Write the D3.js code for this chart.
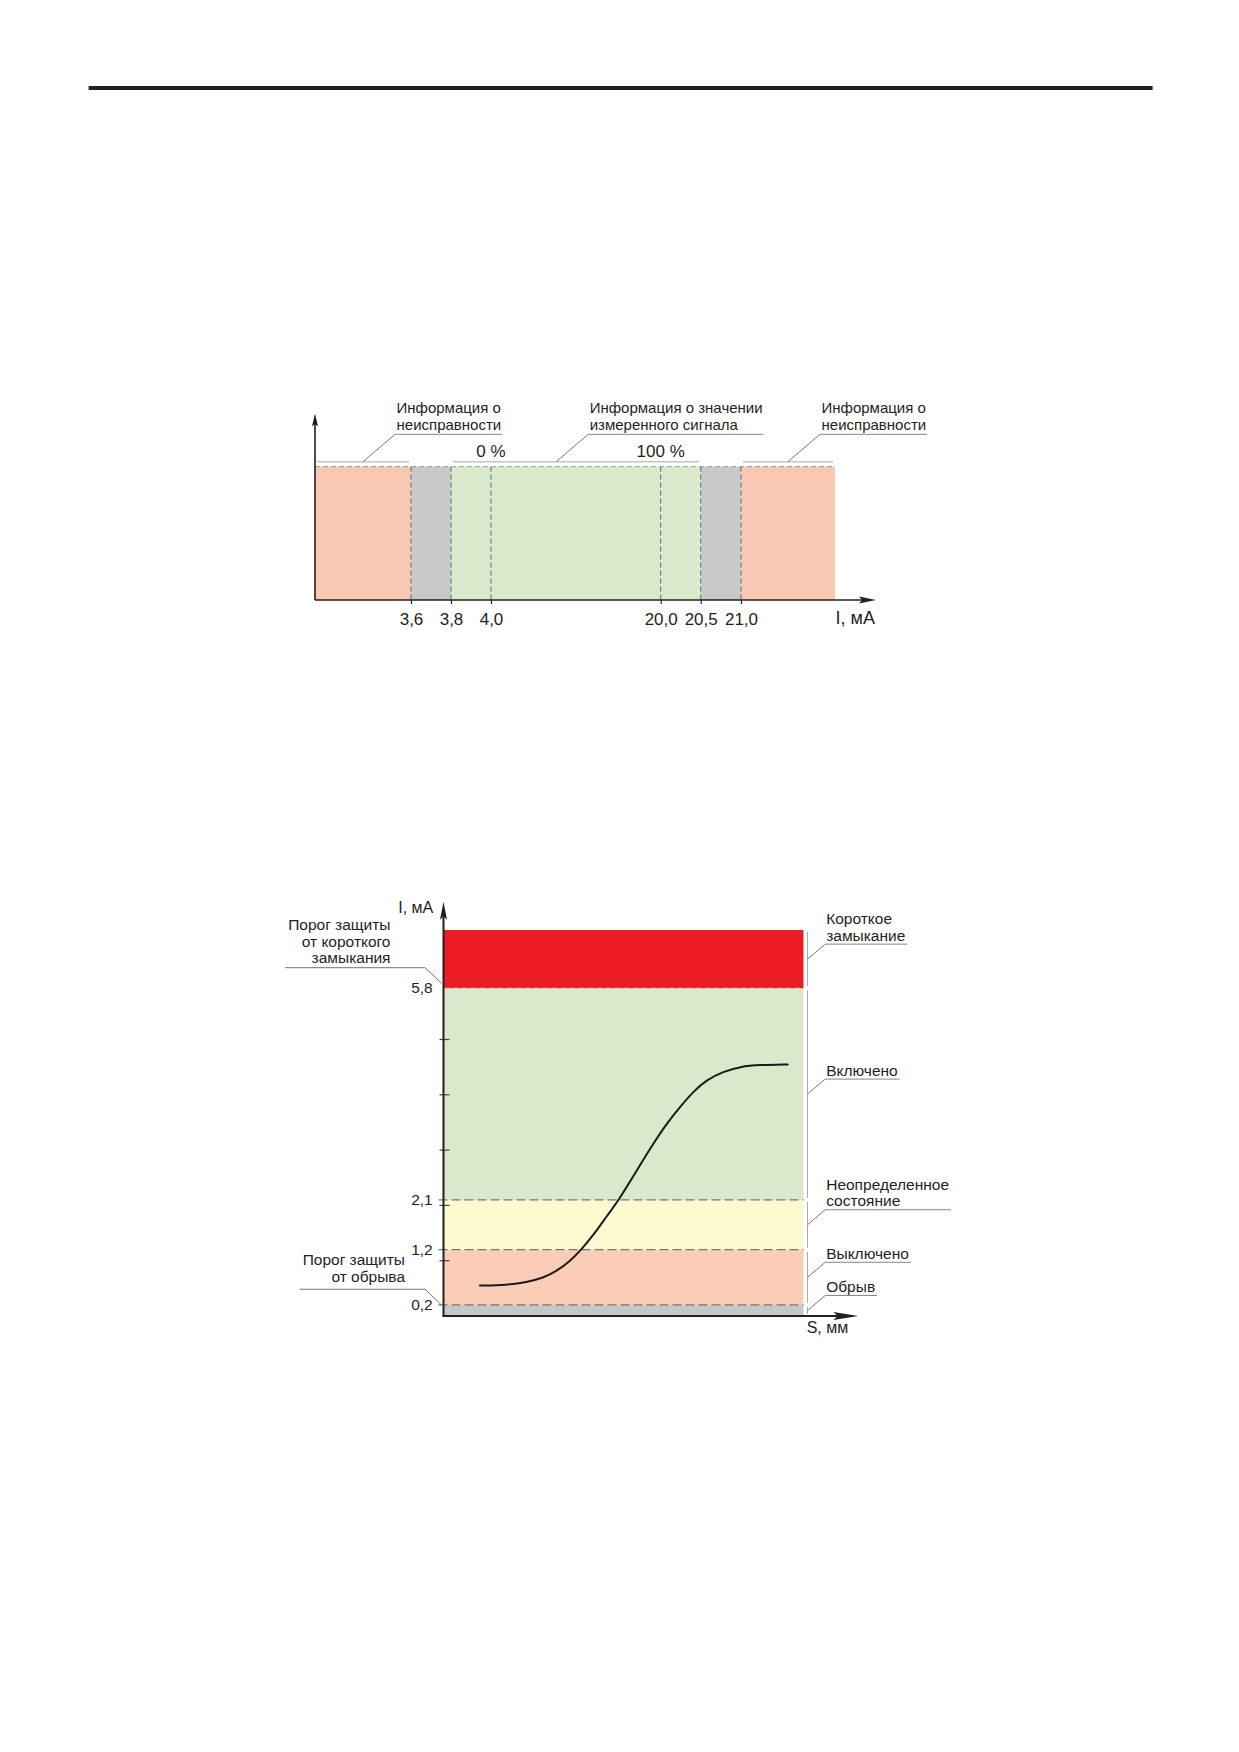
<!DOCTYPE html>
<html lang="ru">
<head>
<meta charset="utf-8">
<script src="https://cdn.jsdelivr.net/npm/d3@7"></script>
<style>
  html, body { margin: 0; padding: 0; background: #fff; }
  svg { display: block; }
  text { font-family: "Liberation Sans", Arial, sans-serif; fill: #231f20; }
</style>
</head>
<body>
<svg id="list" width="1239" height="1752"></svg>
<script>
// ---------- диаграмма 1: токовый выход 4...20 мА ----------
var granicyI = [3.6, 3.8, 4.0, 20.0, 20.5, 21.0];
var podpisiI = ["3,6", "3,8", "4,0", "20,0", "20,5", "21,0"];
var zonyOt = [3.0, 3.6, 3.8, 20.5, 21.0];
var zonyDo = [3.6, 3.8, 20.5, 21.0, 21.6];
var zonyTip = ["авария", "резерв", "сигнал", "резерв", "авария"];
var procentyZnach = [4.0, 20.0];
var procentyText = ["0 %", "100 %"];
var vynoski1 = [["Информация о", "неисправности"],
                ["Информация о значении", "измеренного сигнала"],
                ["Информация о", "неисправности"]];
var vynoski1Ot = [3.0, 3.8, 21.0];
var vynoski1Do = [3.6, 20.5, 21.6];

// ---------- диаграмма 2: датчик NAMUR ----------
var urovniOt = [0, 0.2, 1.2, 2.1, 5.8];
var urovniDo = [0.2, 1.2, 2.1, 5.8, 7.0];
var urovniTip = ["обрыв", "выкл", "неопр", "вкл", "кз"];
var urovniText = [["Обрыв"], ["Выключено"], ["Неопределенное", "состояние"],
                  ["Включено"], ["Короткое", "замыкание"]];
var metkiI = [0.2, 1.2, 2.1, 5.8];
var metkiText = ["0,2", "1,2", "2,1", "5,8"];
var deleniya = [1, 2, 3, 4, 5];
var porogi = [5.8, 0.2];
var porogiText = [["Порог защиты", "от короткого", "замыкания"],
                  ["Порог защиты", "от обрыва"]];
var krivayaS = [1.01, 1.76, 2.31, 2.77, 3.14, 3.51, 3.84, 4.16, 4.53, 4.88, 5.18,
                5.46, 5.83, 6.20, 6.57, 6.94, 7.31, 7.77, 8.24, 8.79, 9.56];
var krivayaI = [0.55, 0.56, 0.61, 0.69, 0.81, 0.99, 1.21, 1.46, 1.80, 2.11, 2.43,
                2.73, 3.12, 3.48, 3.78, 4.06, 4.27, 4.42, 4.51, 4.54, 4.55];

var cveta1 = d3.scaleOrdinal().domain(["авария", "резерв", "сигнал"])
    .range(["#f9c8b3", "#c7c8ca", "#d8eacb"]);
var cveta2 = d3.scaleOrdinal().domain(["обрыв", "выкл", "неопр", "вкл", "кз"])
    .range(["#c6c7c9", "#fbcdb6", "#fdf9d1", "#d8eacb", "#ec1c24"]);

var svg = d3.select("#list");
var TEMNYJ = "#231f20";

// линия в шапке страницы
svg.append("line").attr("x1", 88.6).attr("x2", 1152.6).attr("y1", 88).attr("y2", 88)
    .attr("stroke", TEMNYJ).attr("stroke-width", 4);

function strelka(g, x, y, napr, dlina, shirina) {
    var d;
    if (napr === "up") {
        d = "M" + x + "," + y + "L" + (x - shirina / 2) + "," + (y + dlina) +
            "L" + x + "," + (y + dlina * 0.82) + "L" + (x + shirina / 2) + "," + (y + dlina) + "Z";
    } else {
        d = "M" + x + "," + y + "L" + (x - dlina) + "," + (y - shirina / 2) +
            "L" + (x - dlina * 0.82) + "," + y + "L" + (x - dlina) + "," + (y + shirina / 2) + "Z";
    }
    g.append("path").attr("d", d).attr("fill", TEMNYJ);
}

function tekst(g, x, y, stroki, anchor, shag, razmer) {
    var t = g.append("text").attr("text-anchor", anchor).style("font-size", razmer + "px");
    stroki.forEach(function(s, i) {
        t.append("tspan").attr("x", x).attr("y", y + i * shag).text(s);
    });
    return t;
}

// ================= диаграмма 1 =================
var g1 = svg.append("g");
var x1 = d3.scaleLinear()
    .domain([3.0, 3.6, 3.8, 4.0, 20.0, 20.5, 21.0, 21.6])
    .range([315, 411, 451, 491, 660.7, 700.7, 741, 835]);
var y1 = d3.scaleLinear().domain([0, 1]).range([600, 466.7]);

g1.selectAll("rect.zona").data(zonyOt).enter().append("rect")
    .attr("class", "zona")
    .attr("x", function(d) { return x1(d); })
    .attr("y", y1(1))
    .attr("width", function(d, i) { return x1(zonyDo[i]) - x1(d); })
    .attr("height", y1(0) - y1(1))
    .attr("fill", function(d, i) { return cveta1(zonyTip[i]); });

// пунктир по верху и по границам
g1.append("line").attr("x1", x1(3.0)).attr("x2", x1(21.6)).attr("y1", y1(1)).attr("y2", y1(1))
    .attr("stroke", "#999").attr("stroke-dasharray", "5,3");
g1.selectAll("line.gran").data(granicyI).enter().append("line")
    .attr("class", "gran")
    .attr("x1", function(d) { return x1(d); }).attr("x2", function(d) { return x1(d); })
    .attr("y1", y1(1)).attr("y2", y1(0))
    .attr("stroke", "#6b6b6b").attr("stroke-dasharray", "5,3");

// ось X
var os1 = d3.axisBottom(x1).tickValues(granicyI)
    .tickFormat(function(d, i) { return podpisiI[i]; })
    .tickSize(4).tickPadding(9).tickSizeOuter(0);
var gOs1 = g1.append("g").attr("transform", "translate(0," + y1(0) + ")").call(os1);
gOs1.select(".domain").remove();
gOs1.selectAll(".tick line").attr("stroke", TEMNYJ).attr("stroke-width", 1.2);
gOs1.selectAll(".tick text").style("font-size", "17px").style("font-family", null).attr("fill", TEMNYJ);

g1.append("line").attr("x1", x1(3.0)).attr("x2", 866).attr("y1", y1(0)).attr("y2", y1(0))
    .attr("stroke", TEMNYJ).attr("stroke-width", 1.6);
strelka(g1, 876, y1(0), "right", 17, 7);
g1.append("line").attr("x1", x1(3.0)).attr("x2", x1(3.0)).attr("y1", y1(0)).attr("y2", 422)
    .attr("stroke", TEMNYJ).attr("stroke-width", 1.6);
strelka(g1, x1(3.0), y1(1.4), "up", 13, 6);
g1.append("text").attr("x", 875).attr("y", 624).attr("text-anchor", "end")
    .style("font-size", "18px").text("I, мА");

// 0 % и 100 %
g1.selectAll("text.proc").data(procentyZnach).enter().append("text")
    .attr("class", "proc")
    .attr("x", function(d) { return x1(d); })
    .attr("y", y1(1) - 10)
    .attr("text-anchor", "middle").style("font-size", "17px")
    .text(function(d, i) { return procentyText[i]; });

// выноски
var dolyaVynoski = [0.5, 0.42, 0.5];
vynoski1.forEach(function(stroki, i) {
    var a = x1(vynoski1Ot[i]) + 2, b = x1(vynoski1Do[i]) - 2;
    var yb = y1(1) - 5;
    g1.append("line").attr("x1", a).attr("x2", b).attr("y1", yb).attr("y2", yb)
        .attr("stroke", "#c4c4c4").attr("stroke-width", 1.6);
    var xs = a + (b - a) * dolyaVynoski[i];
    var xe = xs + 32, ye = yb - 27.4;
    g1.append("line").attr("x1", xs).attr("y1", yb).attr("x2", xe).attr("y2", ye)
        .attr("stroke", "#666").attr("stroke-width", 0.9);
    var t = tekst(g1, xe + 1.5, yb - 48.7, stroki, "start", 17, 15);
    var w = t.node().getBBox().width;
    g1.append("line").attr("x1", xe).attr("x2", xe + 1.5 + w + 1).attr("y1", ye).attr("y2", ye)
        .attr("stroke", "#777").attr("stroke-width", 0.9);
});

// ================= диаграмма 2 =================
var g2 = svg.append("g");
var x2 = d3.scaleLinear().domain([0, 10]).range([443.5, 803.5]);
var y2 = d3.scaleLinear().domain([0, 5, 5.8, 7]).range([1316, 1039.5, 988.3, 930]);

g2.selectAll("rect.uroven").data(urovniOt).enter().append("rect")
    .attr("class", "uroven")
    .attr("x", x2(0))
    .attr("y", function(d, i) { return y2(urovniDo[i]); })
    .attr("width", x2(10) - x2(0))
    .attr("height", function(d, i) { return y2(d) - y2(urovniDo[i]); })
    .attr("fill", function(d, i) { return cveta2(urovniTip[i]); });

// граница 5,8 — светлый пунктир
g2.append("line").attr("x1", x2(0)).attr("x2", x2(10)).attr("y1", y2(5.8)).attr("y2", y2(5.8))
    .attr("stroke", "#f1d0cc").attr("stroke-dasharray", "6,3");
// пороги 2,1 / 1,2 / 0,2
g2.selectAll("line.porog").data([2.1, 1.2, 0.2]).enter().append("line")
    .attr("class", "porog")
    .attr("x1", x2(0) - 5).attr("x2", x2(10))
    .attr("y1", function(d) { return y2(d); }).attr("y2", function(d) { return y2(d); })
    .attr("stroke", "#777").attr("stroke-width", 1.2).attr("stroke-dasharray", "9,4");

// мелкие деления
g2.selectAll("line.del").data(deleniya).enter().append("line")
    .attr("class", "del")
    .attr("x1", x2(0) - 4).attr("x2", x2(0) + 6)
    .attr("y1", function(d) { return y2(d); }).attr("y2", function(d) { return y2(d); })
    .attr("stroke", "#444").attr("stroke-width", 1.2);

g2.selectAll("text.metka").data(metkiI).enter().append("text")
    .attr("class", "metka")
    .attr("x", x2(0) - 10.8)
    .attr("y", function(d) { return y2(d); })
    .attr("dy", "0.33em")
    .attr("text-anchor", "end").style("font-size", "15.5px")
    .text(function(d, i) { return metkiText[i]; });

// кривая
var liniya = d3.line()
    .x(function(d, i) { return x2(krivayaS[i]); })
    .y(function(d) { return y2(d); })
    .curve(d3.curveBasis);
g2.append("path").attr("d", liniya(krivayaI))
    .attr("fill", "none").attr("stroke", "#1a1a1a").attr("stroke-width", 2)
    .attr("stroke-linecap", "round");

// оси
g2.append("line").attr("x1", x2(0)).attr("x2", x2(0)).attr("y1", y2(0)).attr("y2", 915)
    .attr("stroke", TEMNYJ).attr("stroke-width", 2);
strelka(g2, x2(0), 901.7, "up", 18, 7);
g2.append("line").attr("x1", x2(0) - 1).attr("x2", 845).attr("y1", y2(0)).attr("y2", y2(0))
    .attr("stroke", TEMNYJ).attr("stroke-width", 2);
strelka(g2, 858.3, y2(0), "right", 25, 8);
g2.append("text").attr("x", 433.3).attr("y", 913.3).attr("text-anchor", "end")
    .style("font-size", "16px").text("I, мА");
g2.append("text").attr("x", 806.7).attr("y", 1333.3).attr("text-anchor", "start")
    .style("font-size", "16px").text("S, мм");

// пороги защиты слева
var porogiRaskladka = [
    { pravo: -53, gor: -20.6, konec: -5, sdvig: -4.4 },
    { pravo: -38.5, gor: -15.7, konec: 0, sdvig: -7.3 }
];
porogi.forEach(function(v, i) {
    var r = porogiRaskladka[i];
    var y = y2(v), xa = x2(0);
    var stroki = porogiText[i];
    var yPosl = y + r.gor + r.sdvig;
    var t = tekst(g2, xa + r.pravo, yPosl - (stroki.length - 1) * 16.8, stroki, "end", 16.8, 15.5);
    var bb = t.node().getBBox();
    g2.append("path")
        .attr("d", "M" + (bb.x - 3) + "," + (y + r.gor) + "L" + (xa - 18.5) + "," + (y + r.gor) +
            "L" + (xa - 2) + "," + (y + r.konec))
        .attr("fill", "none").attr("stroke", "#666").attr("stroke-width", 0.9);
});

// скобки и подписи состояний справа
var xSkoba = x2(10) + 4;
urovniOt.forEach(function(v, i) {
    var yv = y2(urovniDo[i]) + 2, yn = y2(v) - 2;
    g2.append("line").attr("x1", xSkoba).attr("x2", xSkoba).attr("y1", yv).attr("y2", yn)
        .attr("stroke", "#aaa").attr("stroke-width", 1);
    var ym = (yv + yn) / 2;
    var xe = xSkoba + 17.7, ye = ym - 15;
    g2.append("line").attr("x1", xSkoba).attr("y1", ym).attr("x2", xe).attr("y2", ye)
        .attr("stroke", "#666").attr("stroke-width", 0.9);
    var stroki = urovniText[i];
    var t = tekst(g2, xe + 1, ye - 3.5 - (stroki.length - 1) * 16.5, stroki, "start", 16.5, 15.5);
    var w = t.node().getBBox().width;
    g2.append("line").attr("x1", xe).attr("x2", xe + 1 + w + 2).attr("y1", ye).attr("y2", ye)
        .attr("stroke", "#777").attr("stroke-width", 0.9);
});
</script>
</body>
</html>
